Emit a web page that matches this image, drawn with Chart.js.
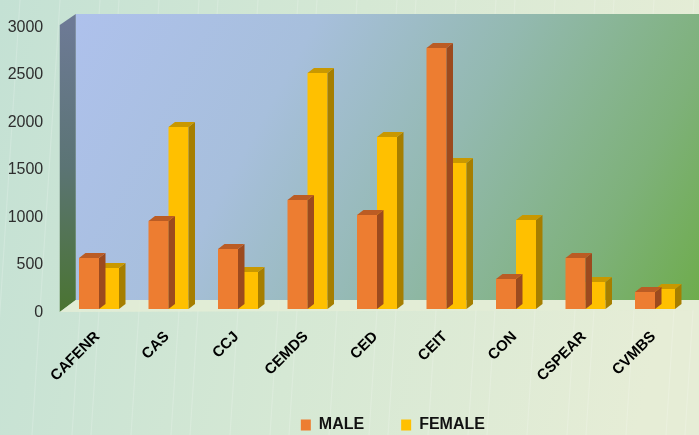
<!DOCTYPE html>
<html>
<head>
<meta charset="utf-8">
<script src="https://cdn.jsdelivr.net/npm/chart.js@4.4.0/dist/chart.umd.min.js"></script>
<style>
  html, body { margin: 0; padding: 0; background: #d6e8d5; }
  canvas { display: block; }
</style>
</head>
<body>
<canvas id="chart" width="699" height="435"></canvas>
<script>
// Enrolment by college, split by sex
const colleges = ['CAFENR', 'CAS', 'CCJ', 'CEMDS', 'CED', 'CEIT', 'CON', 'CSPEAR', 'CVMBS'];
const male   = [537, 926, 632, 1147, 989, 2747, 316, 537, 179];
const female = [432, 1916, 389, 2484, 1811, 1537, 937, 284, 211];
const yTicks = [0, 500, 1000, 1500, 2000, 2500, 3000];

const FONT = "'Liberation Sans', Arial, sans-serif";
const NARROW = "'Liberation Sans Narrow', 'Arial Narrow', 'Liberation Sans', sans-serif";

// depth of the extruded bars
const BAR_DX = 6.5, BAR_DY = 5;

// Page background, back wall, left side wall and floor
const roomPlugin = {
  id: 'room',
  beforeDraw(chart) {
    const { ctx, width: W, height: H, chartArea: a } = chart;
    const y = chart.scales.y;
    ctx.save();
    const bg = ctx.createLinearGradient(0, 0, W, H * 0.35);
    bg.addColorStop(0, '#c4e1d4');
    bg.addColorStop(0.5, '#d5e8d4');
    bg.addColorStop(1, '#e6edd6');
    ctx.fillStyle = bg;
    ctx.fillRect(0, 0, W, H);

    // faint streaks
    ctx.strokeStyle = 'rgba(255,255,255,0.18)';
    ctx.lineWidth = 1.2;
    for (let i = 0; i < 22; i++) {
      const x0 = 20 + i * 33 + (i % 3) * 7;
      ctx.beginPath();
      ctx.moveTo(x0, 0);
      ctx.lineTo(x0 - 28, H);
      ctx.stroke();
    }

    const yTop = y.getPixelForValue(3000);
    const yBot = y.getPixelForValue(0);
    const frontX = a.left - 4.5;
    const backX = a.left + 11.5;
    const backTop = yTop - 10;
    const backBot = yBot - 9;

    // back wall
    const wall = ctx.createLinearGradient(backX, backTop, W, backBot + 60);
    wall.addColorStop(0, '#aec1ec');
    wall.addColorStop(0.3, '#a7bfdc');
    wall.addColorStop(0.55, '#93b9b0');
    wall.addColorStop(0.8, '#7eb17a');
    wall.addColorStop(1, '#6aab40');
    ctx.fillStyle = wall;
    ctx.fillRect(backX, backTop, W - backX, backBot - backTop);

    // left side wall
    const side = ctx.createLinearGradient(0, yTop, 0, yBot + 3);
    side.addColorStop(0, '#6d7a95');
    side.addColorStop(0.5, '#5b7474');
    side.addColorStop(1, '#4a7431');
    ctx.fillStyle = side;
    ctx.beginPath();
    ctx.moveTo(frontX, yTop + 1);
    ctx.lineTo(backX, backTop);
    ctx.lineTo(backX, backBot);
    ctx.lineTo(frontX, yBot + 3);
    ctx.closePath();
    ctx.fill();

    // floor
    ctx.fillStyle = 'rgba(228,237,214,0.85)';
    ctx.beginPath();
    ctx.moveTo(frontX, yBot + 3);
    ctx.lineTo(backX, backBot);
    ctx.lineTo(W, backBot);
    ctx.lineTo(W, yBot + 1);
    ctx.closePath();
    ctx.fill();
    ctx.restore();
  }
};

// Side and top faces for each bar, drawn right after its dataset
const extrudePlugin = {
  id: 'extrude',
  afterDatasetDraw(chart, args) {
    const ds = chart.data.datasets[args.index];
    const meta = args.meta;
    const ctx = chart.ctx;
    ctx.save();
    meta.data.forEach(bar => {
      const { x, y, base, width } = bar.getProps(['x', 'y', 'base', 'width'], true);
      const l = x - width / 2, r = x + width / 2;
      ctx.fillStyle = ds.sideColor;
      ctx.beginPath();
      ctx.moveTo(r, y);
      ctx.lineTo(r + BAR_DX, y - BAR_DY);
      ctx.lineTo(r + BAR_DX, base - BAR_DY);
      ctx.lineTo(r, base);
      ctx.closePath();
      ctx.fill();
      ctx.fillStyle = ds.topColor;
      ctx.beginPath();
      ctx.moveTo(l, y);
      ctx.lineTo(l + BAR_DX, y - BAR_DY);
      ctx.lineTo(r + BAR_DX, y - BAR_DY);
      ctx.lineTo(r, y);
      ctx.closePath();
      ctx.fill();
    });
    ctx.restore();
  }
};

// Move the legend row a little right of centre and lower
const legendPlace = {
  id: 'legendPlace',
  afterLayout(chart) {
    const lg = chart.legend;
    if (!lg) return;
    lg.left += 48;
    lg.right += 48;
    lg.top += 8;
    lg.bottom += 8;
  }
};

const PLOT_BOTTOM = 309;

new Chart(document.getElementById('chart'), {
  type: 'bar',
  data: {
    labels: colleges,
    datasets: [
      {
        label: 'MALE',
        data: male,
        backgroundColor: '#ed7d31',
        sideColor: '#9c4a1e',
        topColor: '#bb5c24',
        categoryPercentage: 0.5755,
        barPercentage: 1
      },
      {
        label: 'FEMALE',
        data: female,
        backgroundColor: '#ffc000',
        sideColor: '#a67e00',
        topColor: '#c99800',
        categoryPercentage: 0.5755,
        barPercentage: 1
      }
    ]
  },
  options: {
    responsive: false,
    animation: false,
    devicePixelRatio: 1,
    layout: { padding: { left: 0, right: 9.25, top: 24, bottom: 0 } },
    plugins: {
      tooltip: { enabled: false },
      legend: {
        position: 'bottom',
        labels: {
          boxWidth: 10,
          boxHeight: 11,
          padding: 37,
          color: '#111',
          font: { family: FONT, size: 16, weight: 'bold' }
        }
      }
    },
    scales: {
      x: {
        grid: { display: false },
        border: { display: false },
        ticks: {
          minRotation: 45,
          maxRotation: 45,
          autoSkip: false,
          padding: 11,
          labelOffset: -1.5,
          color: '#000',
          font: { family: FONT, size: 15, weight: 'bold' }
        },
        afterFit(scale) {
          const chart = scale.chart;
          const legendH = chart.legend ? chart.legend.height : 0;
          scale.height = chart.height - legendH - PLOT_BOTTOM;
          // let the slanted names run below the axis box
          scale._computeLabelArea = () => ({ top: scale.top, left: 0, bottom: chart.height, right: chart.width });
        }
      },
      y: {
        min: 0,
        max: 3000,
        grid: { display: false, drawTicks: true, tickLength: 21 },
        border: { display: false },
        afterBuildTicks(scale) {
          scale.ticks = yTicks.map(v => ({ value: v }));
        },
        ticks: {
          padding: 0,
          labelOffset: 3.5,
          color: '#2e2e2e',
          font: { family: NARROW, size: 16 },
          callback: v => String(v)
        },
        afterFit(scale) { scale.width = 64.25; }
      }
    }
  },
  plugins: [roomPlugin, extrudePlugin, legendPlace]
});
</script>
</body>
</html>
